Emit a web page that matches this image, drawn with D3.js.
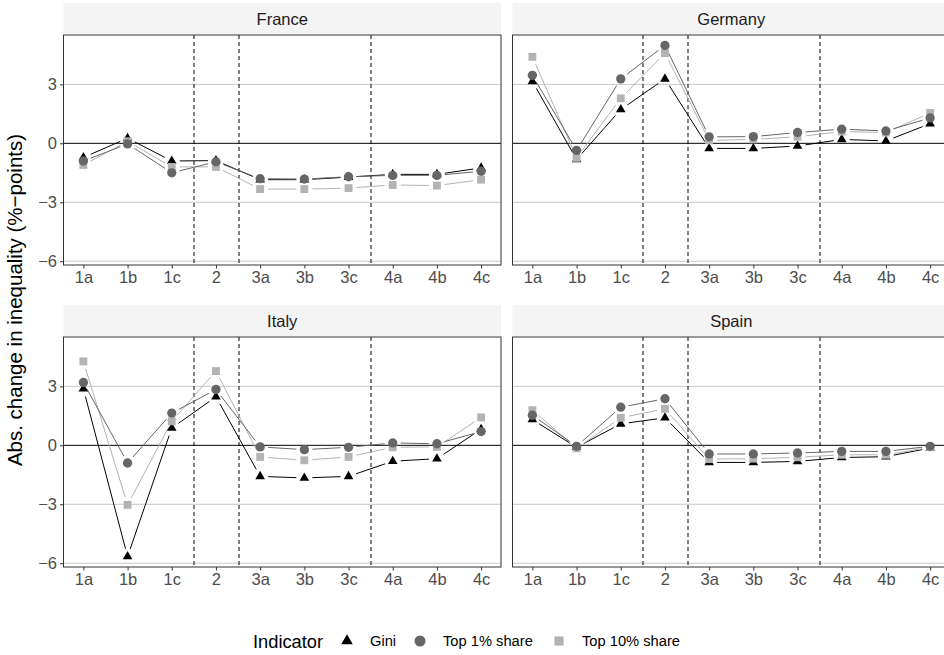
<!DOCTYPE html>
<html>
<head>
<meta charset="utf-8">
<script src="https://cdn.jsdelivr.net/npm/d3@7"></script>
<style>
  body { margin: 0; background: #fff; }
  svg { display: block; font-family: "Liberation Sans", Arial, sans-serif; }
</style>
</head>
<body>
<div id="chart"></div>
<script>
// categories on the x axis
var categories = ["1a", "1b", "1c", "2", "3a", "3b", "3c", "4a", "4b", "4c"];
var countries = ["France", "Germany", "Italy", "Spain"];
var indicators = ["Gini", "Top 1% share", "Top 10% share"];
var yTicks = [-6, -3, 0, 3];
// dashed separators sit between these pairs of categories
var dividers = [["1c", "2"], ["2", "3a"], ["3c", "4a"]];

// values (abs. change, %-points)
var franceGini  = [-0.72, 0.26, -0.90, -0.88, -1.85, -1.85, -1.72, -1.58, -1.58, -1.25];
var franceTop1  = [-0.90, -0.03, -1.50, -0.94, -1.80, -1.82, -1.70, -1.63, -1.63, -1.42];
var franceTop10 = [-1.10, 0.10, -1.20, -1.20, -2.33, -2.33, -2.28, -2.12, -2.15, -1.85];

var germanyGini  = [3.15, -0.82, 1.72, 3.28, -0.26, -0.26, -0.14, 0.20, 0.12, 1.00];
var germanyTop1  = [3.46, -0.36, 3.28, 4.98, 0.33, 0.34, 0.55, 0.72, 0.63, 1.29];
var germanyTop10 = [4.40, -0.74, 2.29, 4.59, 0.15, 0.20, 0.33, 0.60, 0.55, 1.54];

var italyGini  = [2.88, -5.66, 0.88, 2.47, -1.58, -1.66, -1.58, -0.81, -0.68, 0.82];
var italyTop1  = [3.20, -0.90, 1.64, 2.84, -0.08, -0.22, -0.10, 0.12, 0.08, 0.70];
var italyTop10 = [4.27, -3.03, 1.22, 3.78, -0.59, -0.76, -0.59, -0.10, -0.08, 1.42];

var spainGini  = [1.31, -0.10, 1.09, 1.40, -0.87, -0.87, -0.82, -0.62, -0.58, -0.14];
var spainTop1  = [1.53, -0.05, 1.94, 2.37, -0.44, -0.44, -0.39, -0.31, -0.31, -0.05];
var spainTop10 = [1.79, -0.15, 1.40, 1.86, -0.70, -0.68, -0.61, -0.48, -0.48, -0.10];

var series = {
  "France":  [franceGini, franceTop1, franceTop10],
  "Germany": [germanyGini, germanyTop1, germanyTop10],
  "Italy":   [italyGini, italyTop1, italyTop10],
  "Spain":   [spainGini, spainTop1, spainTop10]
};

var colors = {"Gini": "#000000", "Top 1% share": "#666666", "Top 10% share": "#b3b3b3"};
var shapes = {"Gini": d3.symbolTriangle, "Top 1% share": d3.symbolCircle, "Top 10% share": d3.symbolSquare};
var sizes  = {"Gini": 40, "Top 1% share": 68, "Top 10% share": 62};
var drawOrder = ["Gini", "Top 10% share", "Top 1% share"];

var W = 944, H = 655;
var panelW = 437.5, panelH = 230;
var colX = [63.5, 512.5];
var rowY = [35, 337];
var stripH = 31;
var gap = 8;   // space left between a line and its markers

var svg = d3.select("#chart").append("svg")
  .attr("width", W).attr("height", H);

var x = d3.scalePoint().domain(categories).range([0, panelW]).padding(0.45);

var allValues = [];
countries.forEach(function(c) { series[c].forEach(function(s) { allValues = allValues.concat(s); }); });
var ext = d3.extent(allValues);
var pad = (ext[1] - ext[0]) * 0.05;
var y = d3.scaleLinear().domain([ext[0] - pad, ext[1] + pad]).range([panelH, 0]);

countries.forEach(function(country, i) {
  var col = i % 2, row = Math.floor(i / 2);
  var g = svg.append("g")
    .attr("transform", "translate(" + colX[col] + "," + rowY[row] + ")");

  // strip
  g.append("rect")
    .attr("x", 0).attr("y", -stripH - 1)
    .attr("width", panelW).attr("height", stripH)
    .attr("fill", "#f4f4f4");
  g.append("text")
    .attr("x", panelW / 2).attr("y", -stripH / 2 - 1)
    .attr("text-anchor", "middle").attr("dominant-baseline", "central")
    .attr("font-size", "16.5px").attr("fill", "#1a1a1a")
    .text(country);

  // horizontal grid
  g.selectAll(".grid").data(yTicks.filter(function(t) { return t !== 0; }))
    .enter().append("line")
    .attr("x1", 0).attr("x2", panelW)
    .attr("y1", function(d) { return y(d); }).attr("y2", function(d) { return y(d); })
    .attr("stroke", "#c8c8c8").attr("stroke-width", 1);

  // zero line
  g.append("line")
    .attr("x1", 0).attr("x2", panelW)
    .attr("y1", y(0)).attr("y2", y(0))
    .attr("stroke", "#000").attr("stroke-width", 1);

  // dashed separators
  g.selectAll(".div").data(dividers).enter().append("line")
    .attr("x1", function(d) { return Math.round((x(d[0]) + x(d[1])) / 2) + 0.5; })
    .attr("x2", function(d) { return Math.round((x(d[0]) + x(d[1])) / 2) + 0.5; })
    .attr("y1", 0).attr("y2", panelH)
    .attr("stroke", "#000").attr("stroke-width", 1)
    .attr("stroke-dasharray", "4,3");

  // lines with gaps at the markers
  drawOrder.forEach(function(ind) {
    var vals = series[country][indicators.indexOf(ind)];
    for (var k = 0; k < vals.length - 1; k++) {
      var x0 = x(categories[k]), y0 = y(vals[k]);
      var x1 = x(categories[k + 1]), y1 = y(vals[k + 1]);
      var len = Math.sqrt((x1 - x0) * (x1 - x0) + (y1 - y0) * (y1 - y0));
      if (len <= 2 * gap) continue;
      var ux = (x1 - x0) / len, uy = (y1 - y0) / len;
      g.append("line")
        .attr("x1", x0 + ux * gap).attr("y1", y0 + uy * gap)
        .attr("x2", x1 - ux * gap).attr("y2", y1 - uy * gap)
        .attr("stroke", colors[ind]).attr("stroke-width", 1);
    }
  });

  // markers
  drawOrder.forEach(function(ind) {
    var vals = series[country][indicators.indexOf(ind)];
    g.selectAll(".pt" + indicators.indexOf(ind)).data(vals).enter().append("path")
      .attr("d", d3.symbol().type(shapes[ind]).size(sizes[ind]))
      .attr("transform", function(d, k) { return "translate(" + x(categories[k]) + "," + y(d) + ")"; })
      .attr("fill", colors[ind]);
  });

  // panel border
  g.append("rect")
    .attr("x", 0).attr("y", 0).attr("width", panelW).attr("height", panelH)
    .attr("fill", "none").attr("stroke", "#333333").attr("stroke-width", 1);

  // x axis
  var xa = g.append("g").attr("transform", "translate(0," + panelH + ")")
    .call(d3.axisBottom(x).tickSize(3.5).tickPadding(3));
  xa.select(".domain").remove();
  xa.selectAll("line").attr("stroke", "#333333").attr("stroke-width", 1);
  xa.selectAll("text").attr("font-size", "16.5px").attr("fill", "#4d4d4d")
    .attr("font-family", "Liberation Sans, Arial, sans-serif");

  // y axis on left column only
  if (col === 0) {
    var ya = g.append("g")
      .call(d3.axisLeft(y).tickValues(yTicks).tickSize(3.5).tickPadding(3)
        .tickFormat(function(d) { return d < 0 ? "\u2212" + Math.abs(d) : d; }));
    ya.select(".domain").remove();
    ya.selectAll("line").attr("stroke", "#333333").attr("stroke-width", 1);
    ya.selectAll("text").attr("font-size", "16.5px").attr("fill", "#4d4d4d")
      .attr("font-family", "Liberation Sans, Arial, sans-serif");
  }
});

// y axis title
svg.append("text")
  .attr("transform", "translate(22,300) rotate(-90)")
  .attr("text-anchor", "middle")
  .attr("font-size", "20.5px").attr("fill", "#000")
  .text("Abs. change in inequality (%\u2212points)");

// legend
var legend = svg.append("g").attr("transform", "translate(0,641)");
legend.append("text")
  .attr("x", 253).attr("y", 0).attr("dominant-baseline", "central")
  .attr("font-size", "18.3px").attr("fill", "#000")
  .text("Indicator");

var legendX = [347, 420, 559];
var legendSizes = [58, 95, 85];
indicators.forEach(function(ind, i) {
  legend.append("path")
    .attr("d", d3.symbol().type(shapes[ind]).size(legendSizes[i]))
    .attr("transform", "translate(" + legendX[i] + ",0)")
    .attr("fill", colors[ind]);
  legend.append("text")
    .attr("x", legendX[i] + 23).attr("y", 0).attr("dominant-baseline", "central")
    .attr("font-size", "14.7px").attr("fill", "#000")
    .text(ind);
});
</script>
</body>
</html>
